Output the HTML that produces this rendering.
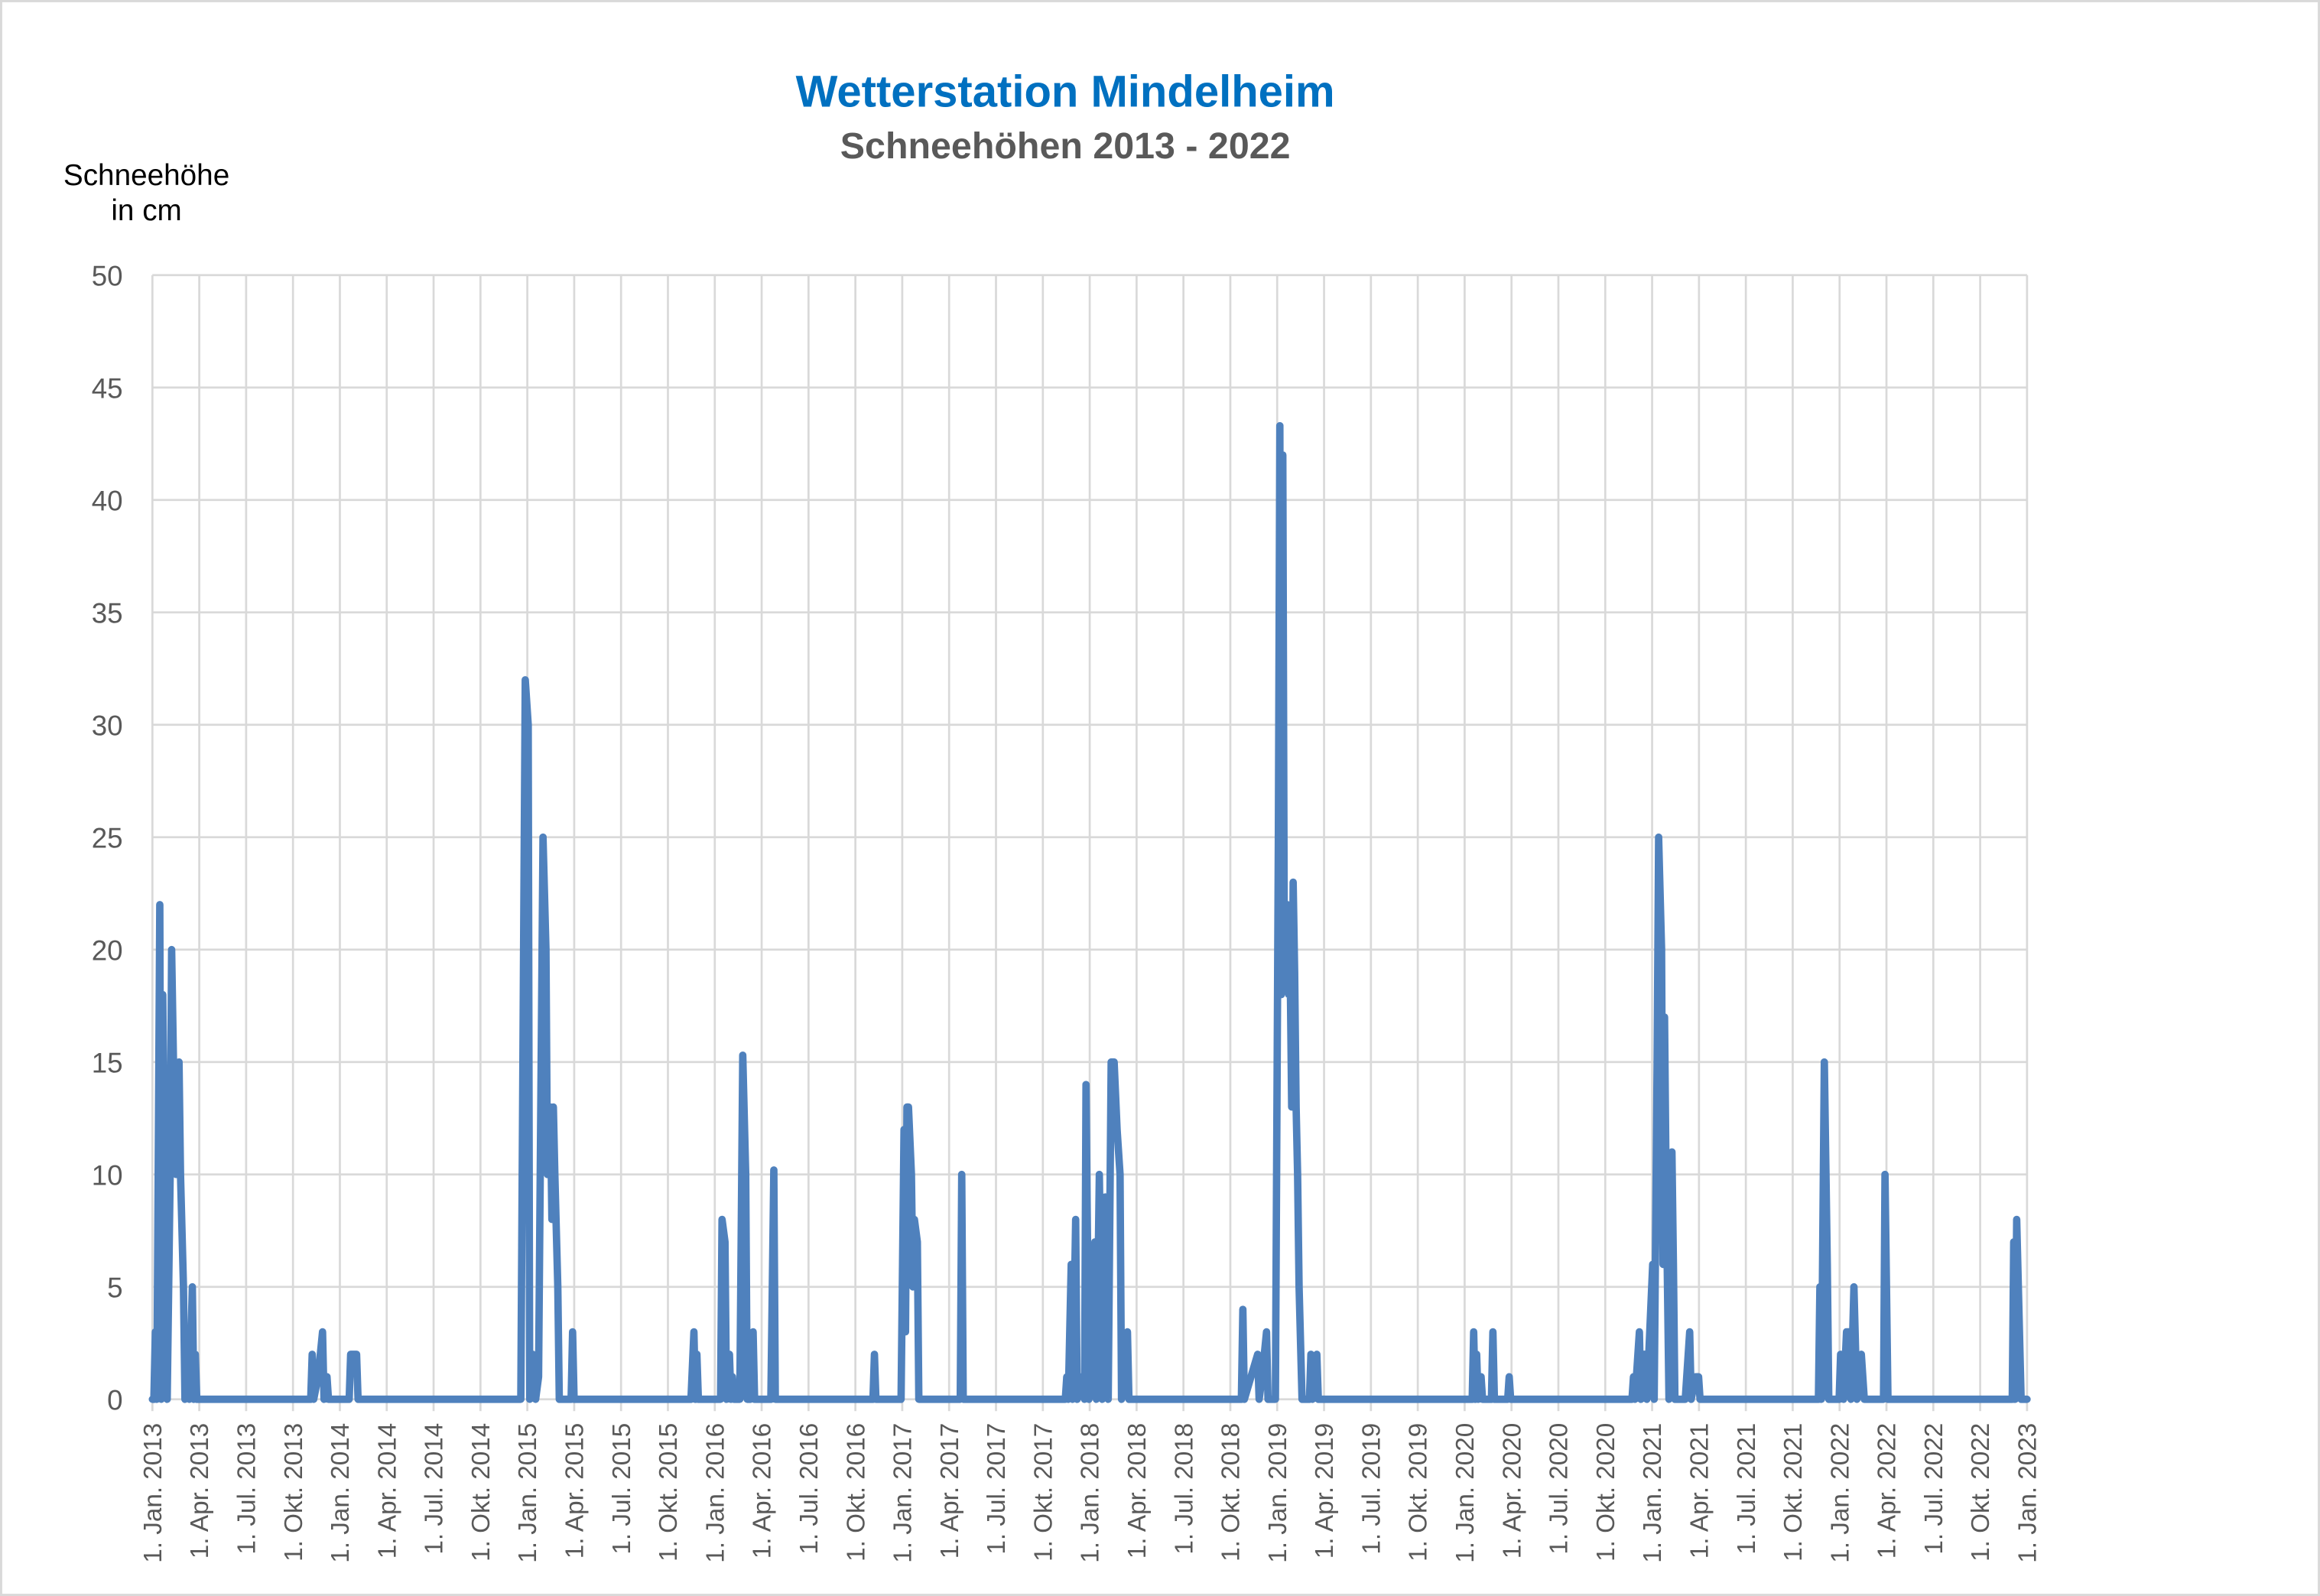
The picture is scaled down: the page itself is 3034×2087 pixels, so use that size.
<!DOCTYPE html>
<html><head><meta charset="utf-8"><style>
html,body{margin:0;padding:0;background:#fff}
svg{display:block}
text{font-family:"Liberation Sans",sans-serif}
</style></head><body>
<svg id="s" width="3034" height="2087" viewBox="0 0 1568 1079" preserveAspectRatio="none" xmlns="http://www.w3.org/2000/svg">
<rect x="0.5" y="0.5" width="1567" height="1078" fill="#fff" stroke="#d9d9d9" stroke-width="2"/>
<text x="720" y="72" text-anchor="middle" font-size="30" font-weight="bold" fill="#0070C0">Wetterstation Mindelheim</text>
<text x="720" y="107" text-anchor="middle" font-size="25" font-weight="bold" fill="#595959">Schneehöhen 2013 - 2022</text>
<text x="99" y="125" text-anchor="middle" font-size="20" fill="#000">Schneehöhe</text>
<text x="99" y="149" text-anchor="middle" font-size="20" fill="#000">in cm</text>
<g id="grid" stroke="#d9d9d9" stroke-width="1.4"></g>
<g id="yl" font-size="19" fill="#595959" text-anchor="end"></g>
<g id="xl" font-size="17.2" fill="#595959" text-anchor="end"></g>
<polyline id="ln" fill="none" stroke="#4F81BD" stroke-width="5" stroke-linejoin="round" stroke-linecap="round"/>
</svg>
<script>
var L=103,R=1370,T=186,B=946,NS="http://www.w3.org/2000/svg";
function el(n,a,p,t){var e=document.createElementNS(NS,n);for(var k in a)e.setAttribute(k,a[k]);if(t)e.textContent=t;document.getElementById(p).appendChild(e);}
for(var i=0;i<=10;i++){var y=B-i*76;el('line',{x1:L,x2:R,y1:y,y2:y},'grid');el('text',{x:83,y:y+7},'yl',String(i*5));}
var m=["Jan.","Apr.","Jul.","Okt."];
for(var i=0;i<=40;i++){var x=L+i*(R-L)/40;el('line',{x1:x,x2:x,y1:T,y2:B+8},'grid');
var lab="1. "+m[i%4]+" "+(2013+Math.floor(i/4));
el('text',{x:0,y:0,transform:"translate("+(x+6)+",962) rotate(-90)"},'xl',lab);}
var d=[103,0,104,0,105,3,106,0,108,22,109,0,110,18,112,5,113,0,115,10,116,20,118,12,119,10,121,15,122,10,124,5,125,0,127,2,128,0,130,5,131,0,132,2,133,0,
210,0,211,2,212,0,215,1,218,3,219,0,221,1,222,0,236,0,237,2,241,2,242,0,
352,0,355,32,357,30,358,0,360,2,362,0,364,1,367,25,369,20,370,10,372,13,373,8,374,13,375,10,377,5,378,0,386,0,387,3,388,0,
467,0,469,3,470,0,471,2,472,0,487,0,488,8,490,7,491,0,493,2,494,0,495,1,496,0,500,0,502,15.3,504,10,505,0,507,0,509,3,510,0,521,0,523,10.2,524,0,
590,0,591,2,592,0,609,0,611,12,612,3,613,13,614,13,616,10,617,5,618,8,620,7,621,0,649,0,650,10,651,0,
720,0,721,1,722,0,724,6,725,0,727,8,728,0,731,1,733,0,734,14,736,0,740,7,741,0,743,10,745,0,747,9,749,0,751,15,753,15,755,12,757,10,758,0,762,3,763,0,
839,0,840,4,841,0,850,2,851,0,853,1,856,3,857,0,862,0,864,25,865,43.3,866,18,867,42,868,20,870,22,871,18,872,19,873,13,874,23,875,19,876,13,877,10,878,5,880,0,885,0,886,2,887,0,890,2,891,0,
995,0,996,3,997,0,998,2,999,0,1001,1,1002,0,1008,0,1009,3,1010,0,1019,0,1020,1,1021,0,
1103,0,1104,1,1105,0,1108,3,1109,0,1111,2,1112,2,1113,0,1117,6,1118,0,1120,15,1121,25,1123,20,1124,6,1125,17,1126,10,1127,5,1128,0,1130,11,1131,6,1132,0,1139,0,1140,1,1142,3,1143,0,1146,1,1148,1,1149,0,
1229,0,1230,5,1231,0,1233,15,1235,6,1236,0,1243,0,1244,2,1246,0,1248,3,1250,3,1251,0,1253,5,1255,0,1258,2,1260,0,1273,0,1274,10,1276,0,
1360,0,1361,7,1362,0,1363,8,1366,0,1370,0];
var p=[];for(var i=0;i<d.length;i+=2)p.push(d[i]+","+(B-d[i+1]*15.2).toFixed(1));
document.getElementById('ln').setAttribute('points',p.join(' '));
</script>
</body></html>
